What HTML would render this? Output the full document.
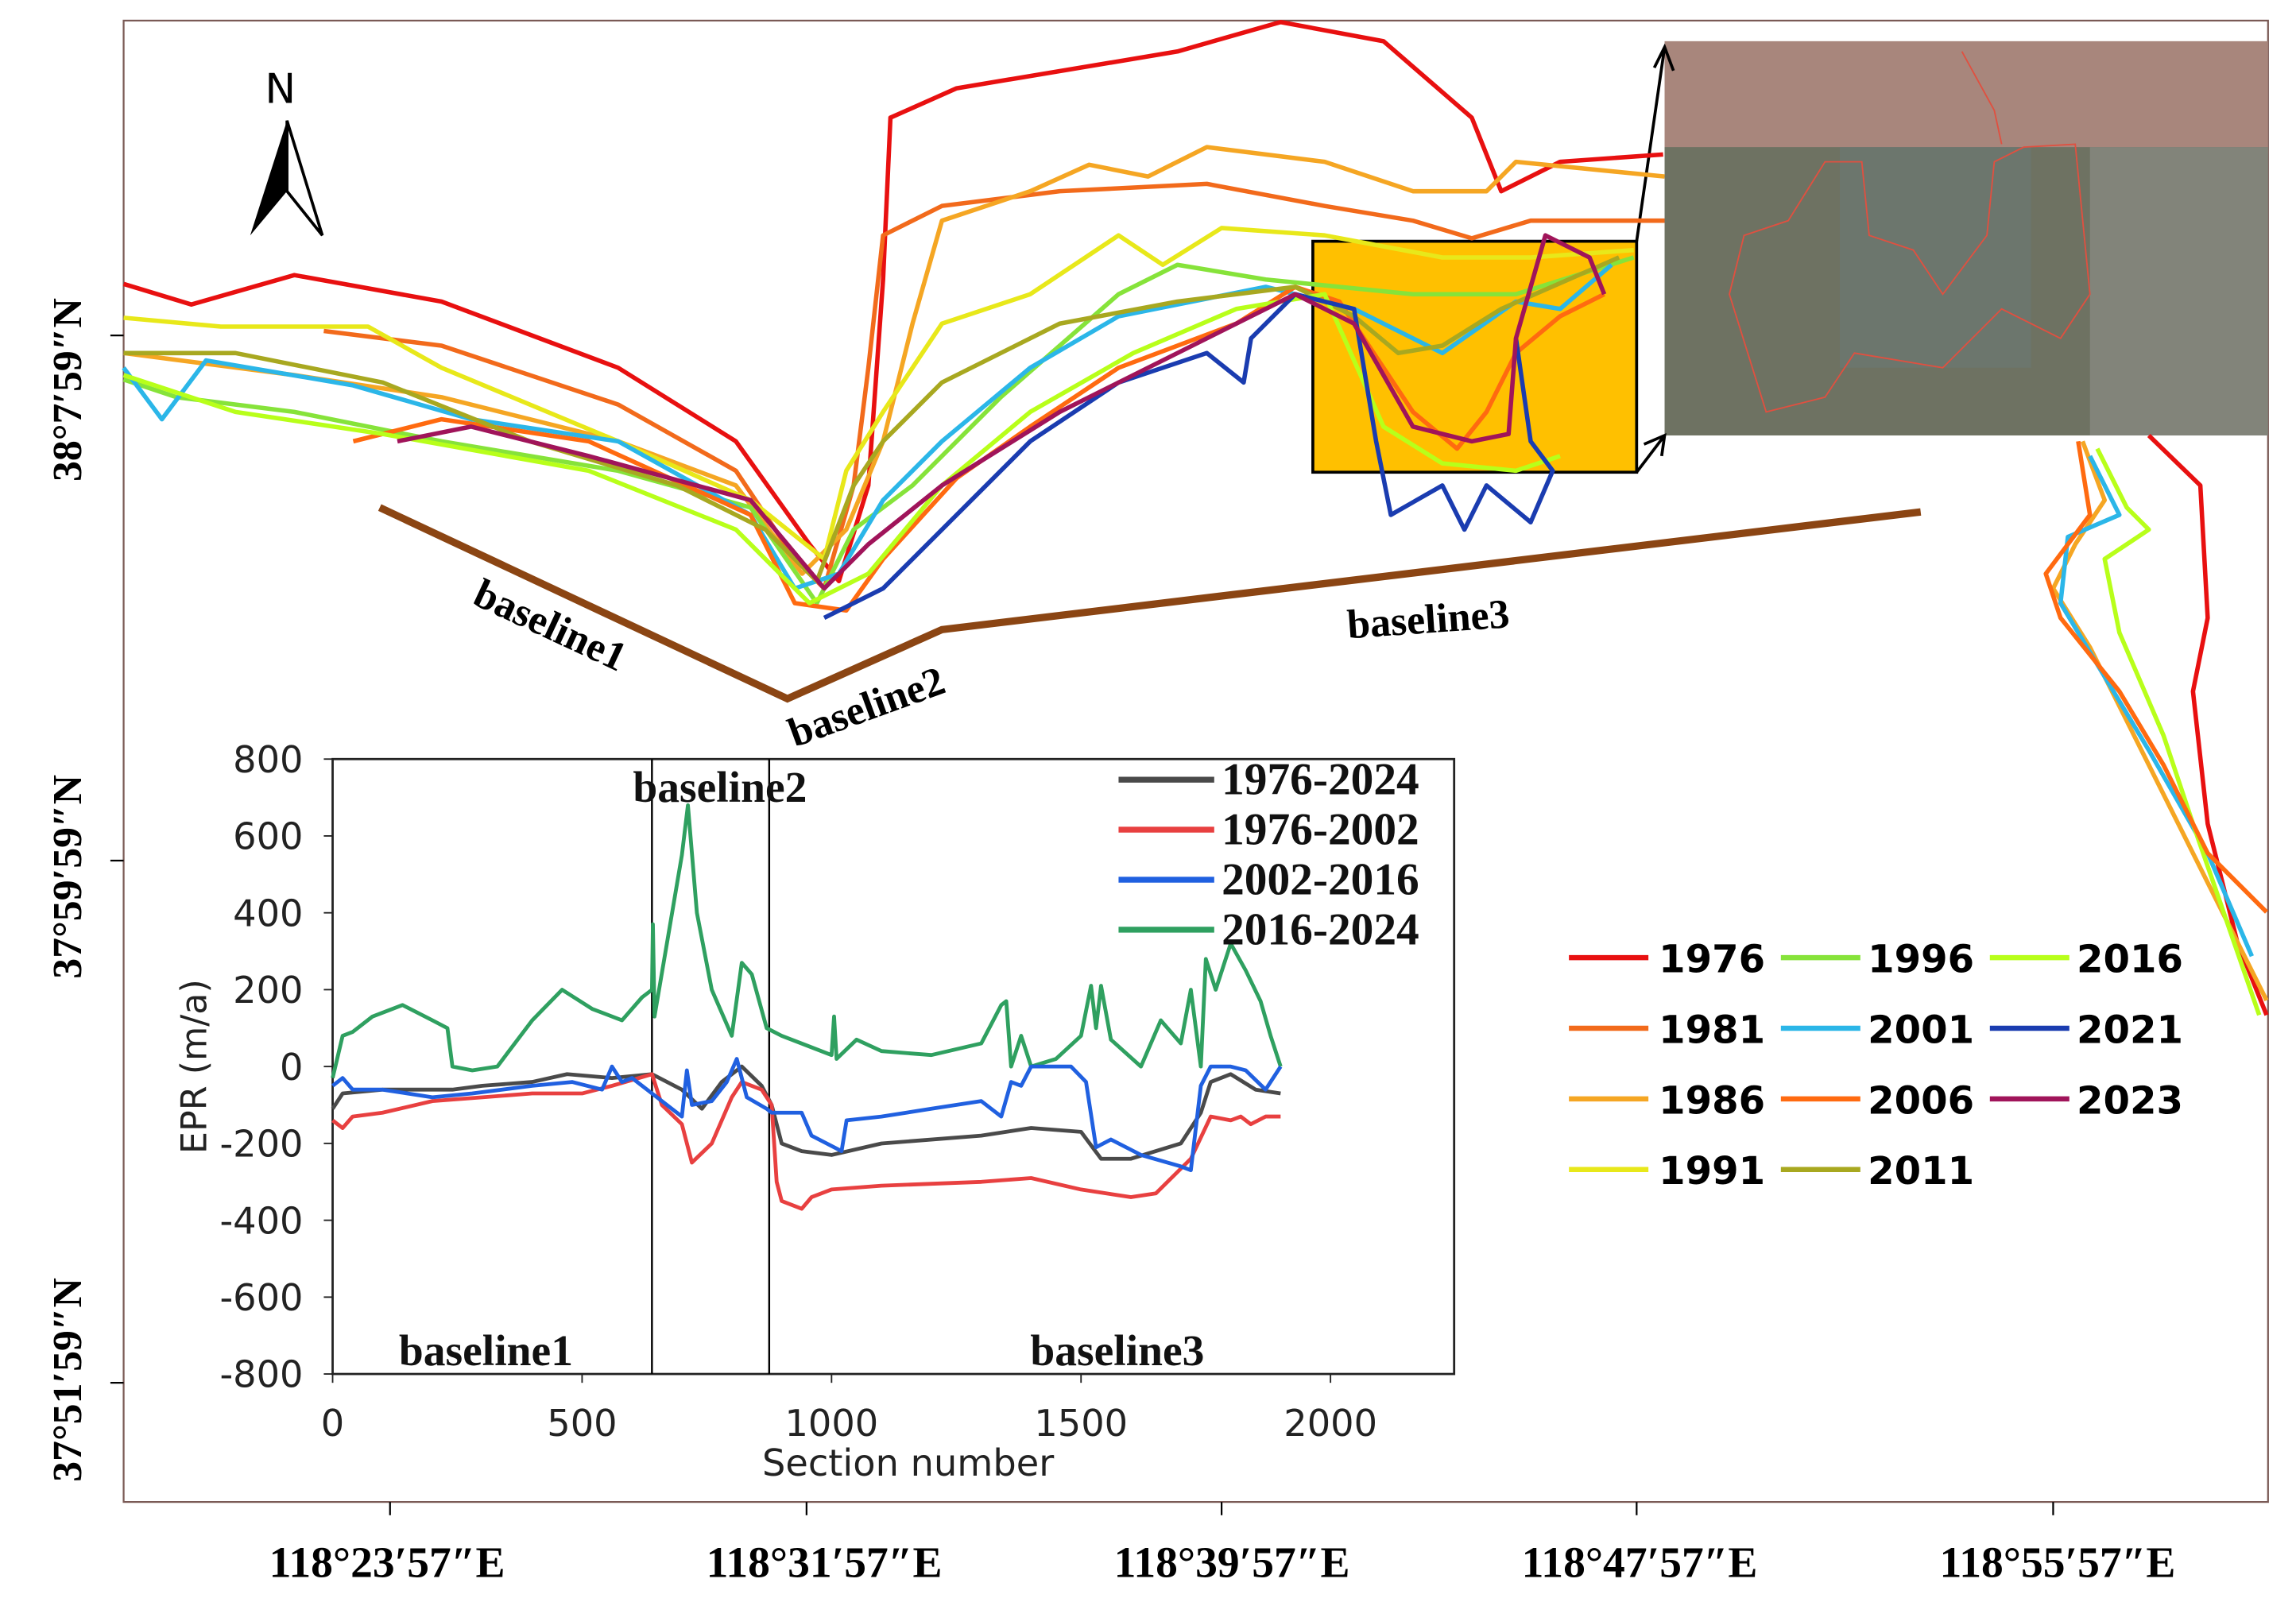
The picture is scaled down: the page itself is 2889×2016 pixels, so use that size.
<!DOCTYPE html>
<html><head><meta charset="utf-8"><style>
html,body{margin:0;padding:0;background:#fff;}
svg{display:block;}
.ser{font-family:"Liberation Serif",serif;font-weight:bold;}
.sans{font-family:"DejaVu Sans","Liberation Sans",sans-serif;}
</style></head><body>
<svg id="root" width="2889" height="2016" viewBox="0 0 1560 1089" preserveAspectRatio="none" xmlns="http://www.w3.org/2000/svg">
<rect x="84" y="14" width="1457" height="1007" fill="#fff" stroke="#7a5a55" stroke-width="1.2"/>
<g>
<rect x="1131" y="28" width="410" height="76" fill="#a8867c"/>
<rect x="1131" y="100" width="410" height="196" fill="#6e7262"/>
<rect x="1250" y="100" width="130" height="150" fill="#6a7a74" opacity="0.6"/>
<rect x="1420" y="100" width="121" height="196" fill="#8a8c84" opacity="0.7"/>
<path d="M1185,160 L1215,150 L1240,110 L1265,110 L1270,160 L1300,170 L1320,200 L1350,160 L1355,110 L1375,100 L1410,98 L1420,200 L1400,230 L1360,210 L1320,250 L1260,240 L1240,270 L1200,280 L1175,200 Z" fill="none" stroke="#e05040" stroke-width="1"/>
<path d="M1333,35 L1355,75 L1360,98" fill="none" stroke="#e05040" stroke-width="1"/>
</g>
<g stroke="#000" stroke-width="2" fill="none">
<path d="M1112,164 L1131,32 M1124,46 L1131,32 L1137,48"/>
<path d="M1112,321 L1131,296 M1117,302 L1131,296 L1129,310"/>
</g>
<rect x="892" y="164" width="220" height="157" fill="#ffc000" stroke="#000" stroke-width="2"/>
<g fill="none" stroke-width="3" stroke-linejoin="round">
<polyline stroke="#e81010" points="84,193 130,207 200,187 300,205 420,250 500,300 550,370 570,395 590,330 600,190 605,80 650,60 800,35 870,15 940,28 1000,80 1020,130 1060,110 1130,105"/>
<polyline stroke="#f26a1b" points="220,225 300,235 420,275 500,320 540,380 560,400 580,330 590,250 600,160 640,140 720,130 820,125 900,140 960,150 1000,162 1040,150 1131,150"/>
<polyline stroke="#f5a623" points="84,240 200,255 300,270 420,300 500,330 545,390 575,360 600,300 620,220 640,150 700,130 740,112 780,120 820,100 900,110 960,130 1010,130 1030,110 1131,120"/>
<polyline stroke="#e8e81a" points="84,216 150,222 250,222 300,250 420,300 510,340 560,380 575,320 600,280 620,250 640,220 700,200 760,160 790,180 830,155 900,160 980,175 1040,175 1110,170"/>
<polyline stroke="#86e33a" points="84,258 120,270 200,280 300,300 420,320 510,345 555,410 580,360 620,330 680,270 760,200 800,180 860,190 960,200 1030,200 1110,175"/>
<polyline stroke="#2bb6e8" points="84,250 110,285 140,245 240,262 320,285 420,300 510,350 540,400 570,390 600,340 640,300 700,250 760,215 860,195 920,210 980,240 1030,205 1060,210 1095,180"/>
<polyline stroke="#ff6a10" points="240,300 300,285 400,300 510,350 540,410 575,415 600,380 650,325 700,290 760,250 840,220 880,195 910,205 940,250 960,280 990,305 1010,280 1030,240 1060,215 1090,200"/>
<polyline stroke="#a8a820" points="84,240 160,240 260,260 360,300 460,330 520,360 555,395 580,330 600,300 640,260 720,220 800,205 880,195 920,215 950,240 980,235 1020,210 1100,175"/>
<polyline stroke="#b8ff1a" points="84,255 160,280 260,295 400,320 500,360 550,410 590,390 640,330 700,280 770,240 840,210 900,200 940,290 980,315 1030,320 1060,310"/>
<polyline stroke="#1a3cb0" points="560,420 600,400 650,350 700,300 760,260 820,240 845,260 850,230 880,200 920,210 935,300 945,350 980,330 995,360 1010,330 1040,355 1055,320 1040,300 1030,230"/>
<polyline stroke="#a0145a" points="270,300 320,290 400,310 510,340 560,400 590,370 640,330 720,280 800,240 880,200 920,220 960,290 1000,300 1025,295 1030,230 1050,160 1080,175 1090,200"/>
<polyline stroke="#e81010" points="1460,296 1495,330 1500,420 1490,470 1500,560 1520,640 1540,690"/>
<polyline stroke="#f5a623" points="1415,300 1430,340 1410,370 1395,400 1420,440 1450,500 1480,560 1510,620 1540,680"/>
<polyline stroke="#2bb6e8" points="1420,310 1440,350 1405,365 1400,410 1430,460 1460,510 1500,580 1530,650"/>
<polyline stroke="#b8ff1a" points="1425,305 1445,345 1460,360 1430,380 1440,430 1470,500 1490,560 1535,690"/>
<polyline stroke="#ff6a10" points="1412,300 1420,350 1390,390 1400,420 1440,470 1470,520 1500,580 1540,620"/>
</g>
<g>
<polyline points="258,345 535,475 640,428 1305,348" fill="none" stroke="#8b4513" stroke-width="5"/>
<text class="ser" x="320" y="410" font-size="28" transform="rotate(25 320 410)">baseline1</text>
<text class="ser" x="540" y="508" font-size="28" transform="rotate(-20 540 508)">baseline2</text>
<text class="ser" x="916" y="434" font-size="28" transform="rotate(-4 916 434)">baseline3</text>
</g>
<g>
<text class="sans" x="180" y="70" font-size="28">N</text>
<path d="M195,82 L170,160 L195,130 Z" fill="#000"/>
<path d="M195,82 L219,160 L195,130 Z" fill="#fff" stroke="#000" stroke-width="2"/>
</g>
<g class="ser" font-size="30">
<g stroke="#000" stroke-width="1.2">
<line x1="265" y1="1021" x2="265" y2="1030"/><line x1="548" y1="1021" x2="548" y2="1030"/><line x1="830" y1="1021" x2="830" y2="1030"/><line x1="1112" y1="1021" x2="1112" y2="1030"/><line x1="1395" y1="1021" x2="1395" y2="1030"/>
<line x1="75" y1="228" x2="84" y2="228"/><line x1="75" y1="585" x2="84" y2="585"/><line x1="75" y1="940" x2="84" y2="940"/>
</g>
<text x="263" y="1072" text-anchor="middle">118°23′57″E</text>
<text x="560" y="1072" text-anchor="middle">118°31′57″E</text>
<text x="837" y="1072" text-anchor="middle">118°39′57″E</text>
<text x="1114" y="1072" text-anchor="middle">118°47′57″E</text>
<text x="1398" y="1072" text-anchor="middle">118°55′57″E</text>
<text x="55" y="265" text-anchor="middle" font-size="28" transform="rotate(-90 55 265)">38°7′59″N</text>
<text x="55" y="596" text-anchor="middle" font-size="28" transform="rotate(-90 55 596)">37°59′59″N</text>
<text x="55" y="938" text-anchor="middle" font-size="28" transform="rotate(-90 55 938)">37°51′59″N</text>
</g>
<g class="sans" font-size="26" font-weight="bold">
<g stroke-width="3.5">
<line x1="1066" y1="651" x2="1120" y2="651" stroke="#e81010"/><line x1="1210" y1="651" x2="1264" y2="651" stroke="#86e33a"/><line x1="1352" y1="651" x2="1406" y2="651" stroke="#b8ff1a"/>
<line x1="1066" y1="699" x2="1120" y2="699" stroke="#f26a1b"/><line x1="1210" y1="699" x2="1264" y2="699" stroke="#2bb6e8"/><line x1="1352" y1="699" x2="1406" y2="699" stroke="#1a3cb0"/>
<line x1="1066" y1="747" x2="1120" y2="747" stroke="#f5a623"/><line x1="1210" y1="747" x2="1264" y2="747" stroke="#ff6a10"/><line x1="1352" y1="747" x2="1406" y2="747" stroke="#a0145a"/>
<line x1="1066" y1="795" x2="1120" y2="795" stroke="#e8e81a"/><line x1="1210" y1="795" x2="1264" y2="795" stroke="#a8a820"/>
</g>
<text x="1127" y="661">1976</text><text x="1269" y="661">1996</text><text x="1411" y="661">2016</text>
<text x="1127" y="709">1981</text><text x="1269" y="709">2001</text><text x="1411" y="709">2021</text>
<text x="1127" y="757">1986</text><text x="1269" y="757">2006</text><text x="1411" y="757">2023</text>
<text x="1127" y="805">1991</text><text x="1269" y="805">2011</text>
</g>
<g id="chart"></g>
</svg>
<script>
const xTicks=[0,500,1000,1500,2000];
const yTicks=[800,600,400,200,0,-200,-400,-600,-800];
const seriesNames=["1976-2024","1976-2002","2002-2016","2016-2024"];
const greenX=[0,20,40,80,140,200,230,240,280,330,400,460,520,580,620,640,642,645,700,712,730,760,800,820,840,870,900,1000,1005,1010,1050,1100,1200,1300,1340,1350,1360,1380,1400,1450,1500,1520,1530,1540,1560,1620,1660,1700,1720,1740,1750,1770,1800,1830,1860,1880,1900];
const greenY=[-30,80,90,130,160,120,100,0,-10,0,120,200,150,120,180,200,370,130,550,680,400,200,80,270,240,100,80,30,130,20,70,40,30,60,160,170,0,80,0,20,80,210,100,210,70,0,120,60,200,0,280,200,320,250,170,80,0];
const blackX=[0,20,100,240,300,400,470,560,640,700,740,780,820,860,880,900,940,1000,1100,1300,1400,1500,1540,1600,1700,1740,1760,1800,1850,1900];
const blackY=[-110,-70,-60,-60,-50,-40,-20,-30,-20,-60,-110,-40,0,-50,-100,-200,-220,-230,-200,-180,-160,-170,-240,-240,-200,-120,-40,-20,-60,-70];
const redX=[0,20,40,100,200,300,400,500,560,640,660,700,720,760,800,820,860,880,890,900,940,960,1000,1100,1300,1400,1500,1600,1650,1720,1760,1800,1820,1840,1870,1900];
const redY=[-140,-160,-130,-120,-90,-80,-70,-70,-50,-20,-100,-150,-250,-200,-80,-40,-60,-100,-300,-350,-370,-340,-320,-310,-300,-290,-320,-340,-330,-240,-130,-140,-130,-150,-130,-130];
const blueX=[0,20,40,100,200,280,400,480,540,560,580,600,640,700,710,720,760,790,810,830,870,880,940,960,1020,1030,1100,1200,1300,1340,1360,1380,1400,1480,1510,1530,1560,1620,1700,1720,1740,1760,1800,1830,1870,1900];
const blueY=[-50,-30,-60,-60,-80,-70,-50,-40,-60,0,-40,-30,-70,-130,-10,-100,-90,-40,20,-80,-110,-120,-120,-180,-220,-140,-130,-110,-90,-130,-40,-50,0,0,-40,-210,-190,-230,-260,-270,-50,0,0,-10,-60,0];
const dividers=[640,875];

const L=226,R=988,T=516,B=934;
const sx=v=>L+(v-0)/2000*(904-L);
const sy=v=>T+(800-v)/1600*(B-T);
const NS="http://www.w3.org/2000/svg";
const g=document.getElementById('chart');
function mk(tag,attrs){const e=document.createElementNS(NS,tag);for(const k in attrs)e.setAttribute(k,attrs[k]);g.appendChild(e);return e;}
const frame=mk('rect',{x:L,y:T,width:R-L,height:B-T,fill:'#fff',stroke:'#222','stroke-width':1.5});


dividers.forEach(d=>{const l=mk('line',{x1:sx(d),x2:sx(d),y1:T,y2:B,stroke:'#000','stroke-width':1.3});

});
xTicks.forEach(v=>{mk('line',{x1:sx(v),x2:sx(v),y1:B,y2:B+6,stroke:'#222'});
const t=mk('text',{x:sx(v),y:B+42,'text-anchor':'middle','font-size':25,class:'sans',fill:'#222'});t.textContent=v;

});
yTicks.forEach(v=>{mk('line',{x1:L-6,x2:L,y1:sy(v),y2:sy(v),stroke:'#222'});
const t=mk('text',{x:L-20,y:sy(v)+9,'text-anchor':'end','font-size':25,class:'sans',fill:'#222'});t.textContent=v;

});
const xt=mk('text',{x:617,y:1003,'text-anchor':'middle','font-size':25,class:'sans',fill:'#222'});xt.textContent='Section number';


const yt=mk('text',{x:140,y:725,'text-anchor':'middle','font-size':24,class:'sans',fill:'#222',transform:'rotate(-90 140 725)'});yt.textContent='EPR (m/a)';


const series=[[blackX,blackY,'#4a4a4a'],[redX,redY,'#e84040'],[blueX,blueY,'#2060e0'],[greenX,greenY,'#2fa060']];
[3,0,1,2].forEach(i=>{const [xs,ys,c]=series[i];
const p=mk('polyline',{points:xs.map((x,j)=>sx(x).toFixed(1)+','+sy(ys[j]).toFixed(1)).join(' '),fill:'none',stroke:c,'stroke-width':2.6,'stroke-linejoin':'round'});

});
seriesNames.forEach((n,i)=>{const y=530+i*34;
mk('line',{x1:760,x2:825,y1:y,y2:y,stroke:series[i][2],'stroke-width':4});
const t=mk('text',{x:830,y:y+10,'font-size':31,class:'ser',fill:'#111'});t.textContent=n;

});
[['baseline2',430,545],['baseline1',271,928],['baseline3',700,928]].forEach(([s,x,y])=>{const t=mk('text',{x:x,y:y,'font-size':30,class:'ser',fill:'#111'});t.textContent=s;

});
</script>
</body></html>
